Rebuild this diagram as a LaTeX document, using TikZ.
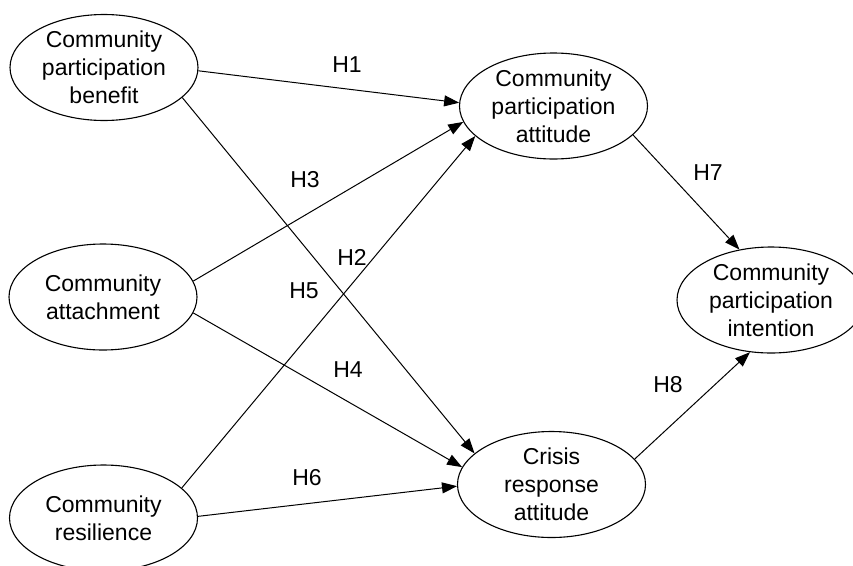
\documentclass[tikz,border=0pt]{standalone}
\usepackage{fontspec}
\setmainfont{Liberation Sans}
\usetikzlibrary{shapes.geometric,arrows.meta}
\begin{document}
\begin{tikzpicture}[x=1pt,y=-1pt,
  var/.style={ellipse,draw,line width=1.1pt,minimum width=188pt,minimum height=106pt,inner sep=0pt,align=center,
    font=\fontsize{23pt}{28pt}\selectfont},
  lbl/.style={font=\fontsize{23pt}{28pt}\selectfont},
  arr/.style={line width=1pt,-{Triangle[length=15pt,width=11pt]}}]
\clip (0,0) rectangle (853,565);
\node[var] (cpb) at (104,67.5) {Community\\participation\\benefit};
\node[var] (ca) at (103,297) {Community\\attachment};
\node[var] (cr) at (103.5,518) {Community\\resilience};
\node[var] (cpa) at (553.5,106) {Community\\participation\\attitude};
\node[var] (cra) at (551.5,484.5) {Crisis\\response\\attitude};
\node[var] (cpi) at (771,300) {Community\\participation\\intention};
\draw[arr] (cpb.-2) -- (cpa.178);
\draw[arr] (ca.10.7) -- (cpa.190.9);
\draw[arr] (cr.21.3) -- (cpa.201.8);
\draw[arr] (cpb.-21.4) -- (cra.158.9);
\draw[arr] (ca.-10) -- (cra.169.6);
\draw[arr] (cr.1.8) -- (cra.181.5);
\draw[arr] (cpa.-20) -- (cpi.122);
\draw[arr] (cra.17) -- (cpi.248);
\node[lbl] (h1) at (347,65) {H1};
\node[lbl] (h3) at (305,180) {H3};
\node[lbl] (h2) at (352,257) {H2};
\node[lbl] (h5) at (304,291) {H5};
\node[lbl] (h4) at (348,370) {H4};
\node[lbl] (h6) at (307,478) {H6};
\node[lbl] (h7) at (708,173) {H7};
\node[lbl] (h8) at (668,385) {H8};
\end{tikzpicture}
\end{document}
